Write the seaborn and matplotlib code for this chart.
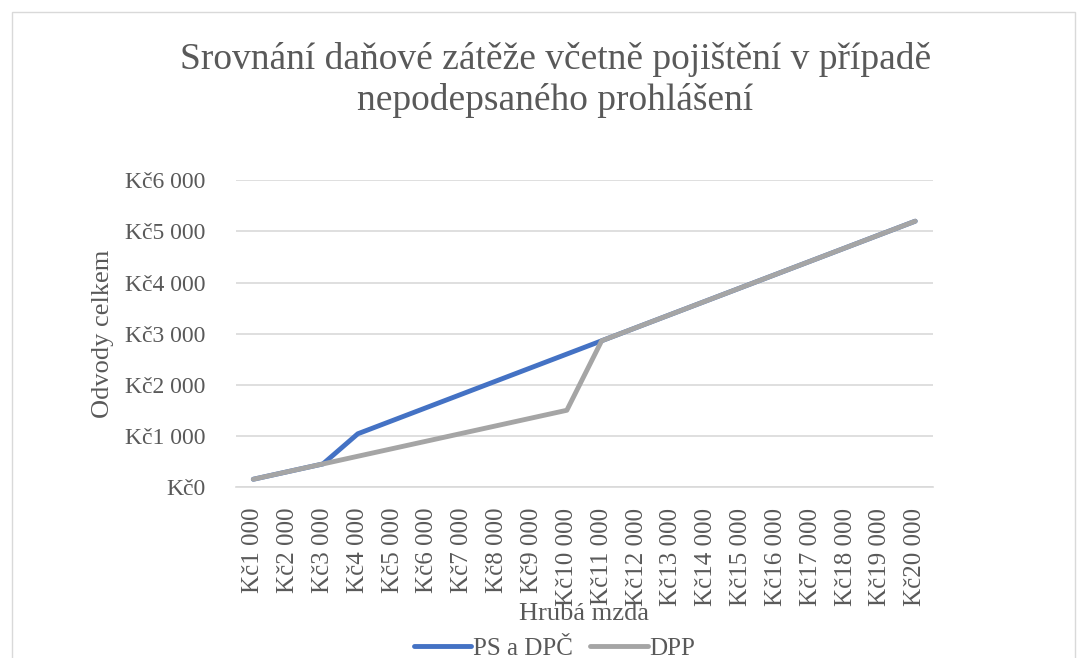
import numpy as np
import pandas as pd
import matplotlib.pyplot as plt
import seaborn as sns

sns.set_theme(style="white")
plt.rcParams['font.family'] = ['Liberation Serif', 'DejaVu Serif']

# data
mzda = [1000, 2000, 3000, 4000, 5000, 6000, 7000, 8000, 9000, 10000,
        11000, 12000, 13000, 14000, 15000, 16000, 17000, 18000, 19000, 20000]
ps_dpc = [150, 300, 450, 1040, 1300, 1560, 1820, 2080, 2340, 2600,
          2860, 3120, 3380, 3640, 3900, 4160, 4420, 4680, 4940, 5200]
dpp = [150, 300, 450, 600, 750, 900, 1050, 1200, 1350, 1500,
       2860, 3120, 3380, 3640, 3900, 4160, 4420, 4680, 4940, 5200]
x_labels = ['Kč' + f'{m:,}'.replace(',', ' ') for m in mzda]
y_ticks = [0, 1000, 2000, 3000, 4000, 5000, 6000]
y_labels = ['Kč0'] + ['Kč' + f'{v:,}'.replace(',', ' ') for v in y_ticks[1:]]

df = pd.DataFrame({'idx': list(range(len(mzda))) * 2,
                   'val': ps_dpc + dpp,
                   'serie': ['PS a DPČ'] * len(mzda) + ['DPP'] * len(mzda)})

txt = '#595959'
fig = plt.figure(figsize=(10.87, 6.58), dpi=100)
ax = fig.add_axes([0.217, 0.26, 0.641, 0.466])

sns.lineplot(data=df, x='idx', y='val', hue='serie', hue_order=['PS a DPČ', 'DPP'],
             palette=['#4472C4', '#A5A5A5'], linewidth=3.5, ax=ax, legend=True)

ax.set_xlim(-0.5, len(mzda) - 0.5)
ax.set_ylim(0, 6000)
ax.set_xticks(range(len(mzda)))
ax.set_xticklabels(x_labels, rotation=90, fontsize=18, color=txt)
ax.set_yticks(y_ticks)
ax.set_yticklabels(y_labels, fontsize=17, color=txt)
ax.tick_params(axis='x', length=0, pad=15)
ax.tick_params(axis='y', length=0, pad=22)
ax.yaxis.grid(True, color='#D9D9D9', linewidth=1.2)
for s in ['top', 'right', 'left']:
    ax.spines[s].set_visible(False)
ax.spines['bottom'].set_color('#D9D9D9')
ax.spines['bottom'].set_linewidth(1.2)

ax.set_xlabel('Hrubá mzda', fontsize=19, color=txt)
ax.xaxis.set_label_coords(0.5, -0.415)
ax.xaxis.label.set_va('center')
ax.set_ylabel('Odvody celkem', fontsize=19, color=txt)
ax.yaxis.set_label_coords(-0.191, 0.5)
ax.yaxis.label.set_va('center')

fig.text(0.511, 0.878, 'Srovnání daňové zátěže včetně pojištění v případě\nnepodepsaného prohlášení',
         ha='center', va='center', fontsize=27, color=txt, linespacing=1.22)

handles, labels = ax.get_legend_handles_labels()
ax.get_legend().remove()
fig.legend(handles, labels, loc='center', bbox_to_anchor=(0.51, 0.014), ncol=2, frameon=False,
           fontsize=18, labelcolor=txt, handlelength=2.3, handletextpad=0.05, columnspacing=0.7,
           borderpad=0)

# chart border
fig.add_artist(plt.Rectangle((0.011, -0.05), 0.978, 1.032, transform=fig.transFigure,
                             fill=False, edgecolor='#D9D9D9', linewidth=1))

plt.savefig('out.png', dpi=100)
